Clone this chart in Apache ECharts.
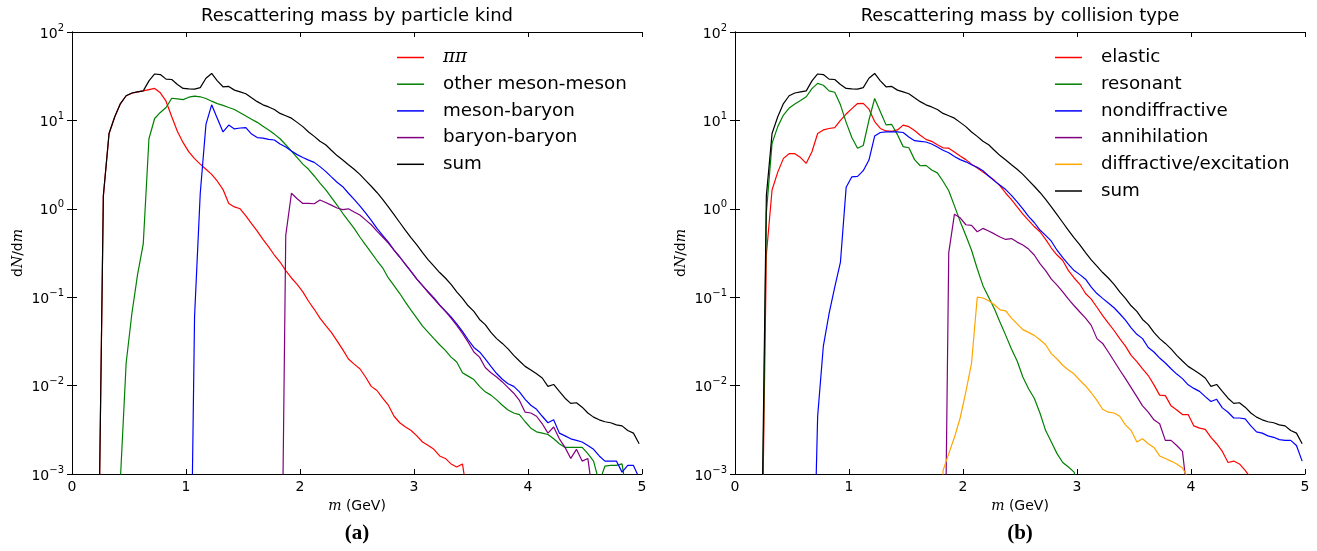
<!DOCTYPE html>
<html><head><meta charset="utf-8">
<script src="https://cdn.jsdelivr.net/npm/echarts@6/dist/echarts.min.js"></script>
<style>html,body{margin:0;padding:0;background:#fff}#c{width:1317px;height:551px}</style>
</head><body><div id="c"></div>
<script>
// ---------- data: [m (GeV), dN/dm] ----------
const SUM = [[0.225,2e-5],[0.275,1.4],[0.325,7.1],[0.375,11],[0.425,15.5],[0.475,19],[0.525,20.4],[0.575,21],[0.625,21.6],[0.675,28],[0.725,33.5],[0.775,33],[0.825,29.3],[0.875,29],[0.925,25.5],[0.975,23],[1.025,22.7],[1.075,22.6],[1.125,23.5],[1.175,30],[1.225,34],[1.275,28],[1.325,24],[1.375,24.2],[1.425,22],[1.475,21],[1.525,20],[1.575,18],[1.625,16.3],[1.675,15],[1.725,14.2],[1.775,13.3],[1.825,12],[1.875,11.3],[1.925,10.6],[1.975,9.5],[2.025,8.5],[2.075,7.4],[2.125,6.6],[2.175,5.8],[2.225,5.3],[2.275,4.6],[2.325,4.0],[2.375,3.56],[2.425,3.15],[2.475,2.8],[2.525,2.45],[2.575,2.1],[2.625,1.8],[2.675,1.53],[2.725,1.28],[2.775,1.05],[2.825,0.86],[2.875,0.7],[2.925,0.57],[2.975,0.47],[3.025,0.39],[3.075,0.32],[3.125,0.265],[3.175,0.225],[3.225,0.19],[3.275,0.165],[3.325,0.14],[3.375,0.115],[3.425,0.097],[3.475,0.08],[3.525,0.069],[3.575,0.056],[3.625,0.049],[3.675,0.04],[3.725,0.034],[3.775,0.03],[3.825,0.026],[3.875,0.022],[3.925,0.019],[3.975,0.0165],[4.025,0.015],[4.075,0.0136],[4.125,0.0122],[4.175,0.0098],[4.225,0.0103],[4.275,0.0086],[4.325,0.0072],[4.375,0.0063],[4.425,0.0064],[4.475,0.0057],[4.525,0.0049],[4.575,0.0044],[4.625,0.0041],[4.675,0.0039],[4.725,0.0038],[4.775,0.0036],[4.825,0.0035],[4.875,0.0031],[4.925,0.0029],[4.975,0.0022]];

const PIPI = [[0.225,2e-5],[0.275,1.4],[0.325,7.1],[0.375,11],[0.425,15.5],[0.475,19],[0.525,20.3],[0.575,21],[0.625,21.6],[0.675,22.3],[0.725,23],[0.775,20.5],[0.825,16.5],[0.875,11],[0.925,7.5],[0.975,5.6],[1.025,4.4],[1.075,3.7],[1.125,3.2],[1.175,2.8],[1.225,2.45],[1.275,2.05],[1.325,1.65],[1.375,1.15],[1.425,1.05],[1.475,1.0],[1.525,0.83],[1.575,0.68],[1.625,0.56],[1.675,0.45],[1.725,0.37],[1.775,0.3],[1.825,0.25],[1.875,0.2],[1.925,0.165],[1.975,0.14],[2.025,0.115],[2.075,0.09],[2.125,0.073],[2.175,0.058],[2.225,0.048],[2.275,0.04],[2.325,0.032],[2.375,0.0255],[2.425,0.02],[2.475,0.0175],[2.525,0.0155],[2.575,0.0125],[2.625,0.0098],[2.675,0.0088],[2.725,0.0072],[2.775,0.006],[2.825,0.0045],[2.875,0.0038],[2.925,0.0034],[2.975,0.0031],[3.025,0.0027],[3.075,0.0023],[3.125,0.0021],[3.175,0.0019],[3.225,0.0016],[3.275,0.0015],[3.325,0.0013],[3.375,0.0012],[3.425,0.0013],[3.475,0.0005]];

const MESON_MESON = [[0.375,1e-6],[0.425,0.0009],[0.475,0.018],[0.525,0.065],[0.575,0.18],[0.625,0.4],[0.675,6.2],[0.725,10.5],[0.775,12.3],[0.825,14],[0.875,17.8],[0.925,17.5],[0.975,17.2],[1.025,18.3],[1.075,18.8],[1.125,18.5],[1.175,17.7],[1.225,16.5],[1.275,15.5],[1.325,14.8],[1.375,14],[1.425,13.3],[1.475,12.2],[1.525,11.2],[1.575,10.3],[1.625,9.5],[1.675,8.6],[1.725,7.8],[1.775,7.0],[1.825,6.2],[1.875,5.3],[1.925,4.5],[1.975,3.8],[2.025,3.2],[2.075,2.8],[2.125,2.35],[2.175,1.95],[2.225,1.65],[2.275,1.35],[2.325,1.1],[2.375,0.89],[2.425,0.73],[2.475,0.6],[2.525,0.48],[2.575,0.39],[2.625,0.32],[2.675,0.26],[2.725,0.215],[2.775,0.165],[2.825,0.135],[2.875,0.11],[2.925,0.088],[2.975,0.071],[3.025,0.058],[3.075,0.047],[3.125,0.04],[3.175,0.034],[3.225,0.029],[3.275,0.025],[3.325,0.021],[3.375,0.0185],[3.425,0.014],[3.475,0.0128],[3.525,0.0117],[3.575,0.0098],[3.625,0.0085],[3.675,0.0078],[3.725,0.0069],[3.775,0.006],[3.825,0.0053],[3.875,0.0049],[3.925,0.0047],[3.975,0.0039],[4.025,0.0033],[4.075,0.003],[4.125,0.0029],[4.175,0.0028],[4.225,0.0025],[4.275,0.0022],[4.325,0.002],[4.375,0.002],[4.425,0.002],[4.475,0.002],[4.525,0.0017],[4.575,0.0014],[4.625,0.0008],[4.675,0.00123],[4.725,0.00125],[4.775,0.00125],[4.825,0.0013],[4.875,0.0005]];

const MESON_BARYON = [[1.025,1e-6],[1.075,0.06],[1.125,1.5],[1.175,9],[1.225,15],[1.275,10.5],[1.325,7.4],[1.375,8.85],[1.425,8.0],[1.475,8.2],[1.525,8.3],[1.575,7.0],[1.625,6.4],[1.675,6.3],[1.725,6.1],[1.775,6.0],[1.825,5.4],[1.875,5.0],[1.925,4.5],[1.975,4.1],[2.025,3.8],[2.075,3.55],[2.125,3.35],[2.175,3.0],[2.225,2.65],[2.275,2.3],[2.325,2.0],[2.375,1.78],[2.425,1.5],[2.475,1.28],[2.525,1.08],[2.575,0.9],[2.625,0.74],[2.675,0.6],[2.725,0.5],[2.775,0.42],[2.825,0.34],[2.875,0.285],[2.925,0.235],[2.975,0.195],[3.025,0.16],[3.075,0.135],[3.125,0.115],[3.175,0.098],[3.225,0.082],[3.275,0.07],[3.325,0.06],[3.375,0.05],[3.425,0.041],[3.475,0.033],[3.525,0.027],[3.575,0.024],[3.625,0.02],[3.675,0.0165],[3.725,0.0137],[3.775,0.0118],[3.825,0.0105],[3.875,0.0098],[3.925,0.0085],[3.975,0.007],[4.025,0.006],[4.075,0.0054],[4.125,0.0045],[4.175,0.0038],[4.225,0.0041],[4.275,0.0029],[4.325,0.0027],[4.375,0.0025],[4.425,0.0024],[4.475,0.0023],[4.525,0.0021],[4.575,0.0019],[4.625,0.0016],[4.675,0.0014],[4.725,0.0014],[4.775,0.0014],[4.825,0.00105],[4.875,0.00125],[4.925,0.00125],[4.975,0.0009]];

const BARYON_BARYON = [[1.825,1e-6],[1.875,0.5],[1.925,1.5],[1.975,1.3],[2.025,1.15],[2.075,1.15],[2.125,1.14],[2.175,1.26],[2.225,1.18],[2.275,1.1],[2.325,1.02],[2.375,0.98],[2.425,1.0],[2.475,0.92],[2.525,0.85],[2.575,0.75],[2.625,0.66],[2.675,0.56],[2.725,0.48],[2.775,0.41],[2.825,0.34],[2.875,0.285],[2.925,0.235],[2.975,0.195],[3.025,0.16],[3.075,0.135],[3.125,0.113],[3.175,0.096],[3.225,0.081],[3.275,0.069],[3.325,0.058],[3.375,0.048],[3.425,0.039],[3.475,0.031],[3.525,0.024],[3.575,0.021],[3.625,0.016],[3.675,0.014],[3.725,0.0125],[3.775,0.011],[3.825,0.0095],[3.875,0.0082],[3.925,0.0068],[3.975,0.005],[4.025,0.0049],[4.075,0.0045],[4.125,0.0037],[4.175,0.0029],[4.225,0.0034],[4.275,0.0025],[4.325,0.002],[4.375,0.0015],[4.425,0.0019],[4.475,0.0014],[4.525,0.0015],[4.575,0.0005]];

const ELASTIC = [[0.225,1e-5],[0.275,0.3],[0.325,1.63],[0.375,2.6],[0.425,3.72],[0.475,4.2],[0.525,4.2],[0.575,3.8],[0.625,3.27],[0.675,4.42],[0.725,7.1],[0.775,7.8],[0.825,8.1],[0.875,8.3],[0.925,10],[0.975,11.8],[1.025,13.6],[1.075,15.5],[1.125,15.6],[1.175,13.4],[1.225,9.7],[1.275,8.1],[1.325,7.6],[1.375,7.5],[1.425,7.8],[1.475,8.85],[1.525,8.5],[1.575,7.7],[1.625,6.8],[1.675,6.1],[1.725,5.8],[1.775,5.3],[1.825,4.9],[1.875,4.85],[1.925,4.4],[1.975,3.95],[2.025,3.6],[2.075,3.2],[2.125,2.9],[2.175,2.6],[2.225,2.35],[2.275,2.1],[2.325,1.82],[2.375,1.5],[2.425,1.27],[2.475,1.05],[2.525,0.87],[2.575,0.74],[2.625,0.63],[2.675,0.55],[2.725,0.45],[2.775,0.36],[2.825,0.3],[2.875,0.26],[2.925,0.2],[2.975,0.165],[3.025,0.14],[3.075,0.11],[3.125,0.095],[3.175,0.077],[3.225,0.062],[3.275,0.051],[3.325,0.042],[3.375,0.034],[3.425,0.028],[3.475,0.022],[3.525,0.0187],[3.575,0.0155],[3.625,0.013],[3.675,0.0102],[3.725,0.0078],[3.775,0.0077],[3.825,0.0059],[3.875,0.0053],[3.925,0.0047],[3.975,0.0047],[4.025,0.0035],[4.075,0.0033],[4.125,0.0032],[4.175,0.0026],[4.225,0.0022],[4.275,0.0018],[4.325,0.00135],[4.375,0.0014],[4.425,0.0013],[4.475,0.0011],[4.525,0.0009]];

const RESONANT = [[0.225,1e-5],[0.275,0.9],[0.325,5.5],[0.375,8.5],[0.425,11.5],[0.475,13.8],[0.525,15.3],[0.575,16.8],[0.625,18.5],[0.675,22.9],[0.725,26.2],[0.775,25],[0.825,21.6],[0.875,20.8],[0.925,15],[0.975,9.5],[1.025,6.4],[1.075,4.85],[1.125,5.2],[1.175,10.1],[1.225,17.7],[1.275,12.5],[1.325,8.9],[1.375,9.0],[1.425,6.9],[1.475,5.05],[1.525,4.9],[1.575,3.6],[1.625,3.07],[1.675,3.1],[1.725,2.75],[1.775,2.55],[1.825,2.05],[1.875,1.6],[1.925,1.08],[1.975,0.72],[2.025,0.5],[2.075,0.34],[2.125,0.21],[2.175,0.135],[2.225,0.1],[2.275,0.074],[2.325,0.052],[2.375,0.037],[2.425,0.026],[2.475,0.019],[2.525,0.0125],[2.575,0.0092],[2.625,0.0072],[2.675,0.0049],[2.725,0.0031],[2.775,0.0023],[2.825,0.0017],[2.875,0.00135],[2.925,0.0012],[2.975,0.00105],[3.025,0.0005]];

const NONDIFFRACTIVE = [[0.675,1e-5],[0.725,0.0045],[0.775,0.028],[0.825,0.065],[0.875,0.13],[0.925,0.25],[0.975,1.75],[1.025,2.3],[1.075,2.33],[1.125,2.7],[1.175,3.56],[1.225,6.65],[1.275,7.3],[1.325,7.4],[1.375,7.4],[1.425,7.4],[1.475,7.3],[1.525,6.5],[1.575,5.9],[1.625,5.8],[1.675,5.7],[1.725,5.4],[1.775,5.0],[1.825,4.6],[1.875,4.3],[1.925,3.9],[1.975,3.6],[2.025,3.4],[2.075,3.15],[2.125,2.95],[2.175,2.7],[2.225,2.35],[2.275,2.07],[2.325,1.85],[2.375,1.65],[2.425,1.42],[2.475,1.2],[2.525,1.0],[2.575,0.82],[2.625,0.7],[2.675,0.575],[2.725,0.5],[2.775,0.43],[2.825,0.34],[2.875,0.28],[2.925,0.235],[2.975,0.2],[3.025,0.18],[3.075,0.16],[3.125,0.13],[3.175,0.11],[3.225,0.097],[3.275,0.086],[3.325,0.076],[3.375,0.065],[3.425,0.055],[3.475,0.045],[3.525,0.038],[3.575,0.034],[3.625,0.027],[3.675,0.024],[3.725,0.0205],[3.775,0.018],[3.825,0.0155],[3.875,0.0135],[3.925,0.012],[3.975,0.0102],[4.025,0.0093],[4.075,0.0086],[4.125,0.0075],[4.175,0.0066],[4.225,0.007],[4.275,0.0056],[4.325,0.005],[4.375,0.0043],[4.425,0.0043],[4.475,0.0042],[4.525,0.0035],[4.575,0.003],[4.625,0.0029],[4.675,0.0027],[4.725,0.0026],[4.775,0.00245],[4.825,0.0024],[4.875,0.0024],[4.925,0.0021],[4.975,0.0014]];

const ANNIHILATION = [[1.825,1e-6],[1.875,0.32],[1.925,0.87],[1.975,0.79],[2.025,0.66],[2.075,0.65],[2.125,0.55],[2.175,0.6],[2.225,0.56],[2.275,0.52],[2.325,0.48],[2.375,0.45],[2.425,0.46],[2.475,0.42],[2.525,0.39],[2.575,0.35],[2.625,0.3],[2.675,0.24],[2.725,0.2],[2.775,0.16],[2.825,0.137],[2.875,0.115],[2.925,0.095],[2.975,0.08],[3.025,0.068],[3.075,0.058],[3.125,0.048],[3.175,0.034],[3.225,0.03],[3.275,0.024],[3.325,0.019],[3.375,0.015],[3.425,0.012],[3.475,0.0095],[3.525,0.0075],[3.575,0.0059],[3.625,0.005],[3.675,0.0041],[3.725,0.0037],[3.775,0.0024],[3.825,0.0024],[3.875,0.0021],[3.925,0.0018],[3.975,0.0005]];

const DIFFRACTIVE = [[1.775,1e-5],[1.825,0.0011],[1.875,0.0017],[1.925,0.0026],[1.975,0.0043],[2.025,0.0085],[2.075,0.018],[2.125,0.1],[2.175,0.098],[2.225,0.091],[2.275,0.082],[2.325,0.072],[2.375,0.07],[2.425,0.058],[2.475,0.05],[2.525,0.043],[2.575,0.04],[2.625,0.037],[2.675,0.033],[2.725,0.029],[2.775,0.023],[2.825,0.02],[2.875,0.017],[2.925,0.015],[2.975,0.0135],[3.025,0.0115],[3.075,0.0099],[3.125,0.0083],[3.175,0.0068],[3.225,0.0054],[3.275,0.005],[3.325,0.0049],[3.375,0.0045],[3.425,0.0036],[3.475,0.0031],[3.525,0.0023],[3.575,0.0025],[3.625,0.0022],[3.675,0.002],[3.725,0.0016],[3.775,0.0015],[3.825,0.0014],[3.875,0.0013],[3.925,0.00117],[3.975,0.0009]];

const X_TICKS = [0,1,2,3,4,5];
const Y_MIN = 1e-3, Y_MAX = 1e2;

const PANEL_A = { title:'Rescattering mass by particle kind', label:'(a)',
  series:[['ππ',PIPI,'#ff0000'],['other meson-meson',MESON_MESON,'#008000'],['meson-baryon',MESON_BARYON,'#0000ff'],['baryon-baryon',BARYON_BARYON,'#800080'],['sum',SUM,'#000000']]};
const PANEL_B = { title:'Rescattering mass by collision type', label:'(b)',
  series:[['elastic',ELASTIC,'#ff0000'],['resonant',RESONANT,'#008000'],['nondiffractive',NONDIFFRACTIVE,'#0000ff'],['annihilation',ANNIHILATION,'#800080'],['diffractive/excitation',DIFFRACTIVE,'#ffa500'],['sum',SUM,'#000000']]};

// ---------- layout ----------
const F = 'DejaVu Sans';
const GRIDS = [{left:72,top:32,width:570,height:442},{left:735,top:32,width:570,height:442}];
const LEG = [{left:397,top:47.5},{left:1055,top:47.5}];

function supLabel(v){
  const e = Math.round(Math.log10(v));
  return '{b|10}{s|' + (e<0 ? '\u2212'+(-e) : e) + '}';
}
const tickStyle = {show:true, inside:true, length:5, lineStyle:{color:'#000',width:1}};
const lineStyleAx = {show:true, lineStyle:{color:'#000',width:1}};

const option = {animation:false, grid:[], xAxis:[], yAxis:[], series:[], title:[], legend:[]};
[PANEL_A, PANEL_B].forEach((P,i)=>{
  const g = GRIDS[i];
  option.grid.push(Object.assign({containLabel:false}, g));
  const cx = g.left + g.width/2;
  option.title.push({text:P.title, left:cx, top:7, textAlign:'center', padding:0,
    textStyle:{fontFamily:F, fontSize:18, fontWeight:'normal', color:'#000'}});
  option.title.push({text:P.label, left:cx, top:523, textAlign:'center', padding:0,
    textStyle:{fontFamily:'Liberation Serif', fontSize:21, fontWeight:'bold', color:'#000'}});
  // bottom x
  option.xAxis.push({gridIndex:i, type:'value', min:0, max:5, interval:1, position:'bottom',
    axisLine:lineStyleAx, axisTick:tickStyle, splitLine:{show:false},
    axisLabel:{fontFamily:F, fontSize:14, color:'#000', margin:6, formatter:v=>X_TICKS.includes(v)?String(v):''},
    name:'{i|m} (GeV)', nameLocation:'middle', nameGap:25,
    nameTextStyle:{fontFamily:F, fontSize:14, color:'#000', rich:{i:{fontFamily:'DejaVu Serif', fontStyle:'italic', fontSize:14}}}});
  // top x (mirror ticks)
  option.xAxis.push({gridIndex:i, type:'value', min:0, max:5, interval:1, position:'top',
    axisLine:lineStyleAx, axisTick:tickStyle, axisLabel:{show:false}, splitLine:{show:false}});
  // left y
  option.yAxis.push({gridIndex:i, type:'log', logBase:10, min:Y_MIN, max:Y_MAX, position:'left',
    axisLine:lineStyleAx, axisTick:tickStyle, splitLine:{show:false}, minorTick:{show:false},
    axisLabel:{margin:8, formatter:supLabel, rich:{
      b:{fontFamily:F, fontSize:14, color:'#000', lineHeight:18, verticalAlign:'bottom'},
      s:{fontFamily:F, fontSize:10, color:'#000', lineHeight:10, verticalAlign:'top'}}},
    name:'{r|d}{i|N}{r|/d}{i|m}', nameLocation:'middle', nameGap:47, nameRotate:90,
    nameTextStyle:{rich:{r:{fontFamily:F, fontSize:14, color:'#000'}, i:{fontFamily:'DejaVu Serif', fontStyle:'italic', fontSize:14, color:'#000'}}}});
  // right y (mirror ticks)
  option.yAxis.push({gridIndex:i, type:'log', logBase:10, min:Y_MIN, max:Y_MAX, position:'right',
    axisLine:lineStyleAx, axisTick:tickStyle, splitLine:{show:false}, axisLabel:{show:false}});
  const names = [];
  P.series.forEach(([name,data,color])=>{
    names.push(name);
    option.series.push({type:'line', name, data, xAxisIndex:2*i, yAxisIndex:2*i,
      showSymbol:false, symbol:'none', clip:true, color,
      lineStyle:{color, width:1.2}, emphasis:{disabled:true}});
  });
  option.legend.push({orient:'vertical', left:LEG[i].left, top:LEG[i].top, padding:0,
    icon:'rect', itemWidth:27, itemHeight:1.5, itemGap:6.7, data:names, selectedMode:false,
    formatter:n=> n==='ππ' ? '{i|ππ}' : n,
    textStyle:{fontFamily:F, fontSize:18.3, color:'#000', lineHeight:20, padding:[0,0,0,14],
      rich:{i:{fontFamily:'DejaVu Serif', fontStyle:'italic', fontSize:18.3, lineHeight:20}}}});
});
const chart = echarts.init(document.getElementById('c'), null, {renderer:'canvas'});
chart.setOption(option);
</script></body></html>
